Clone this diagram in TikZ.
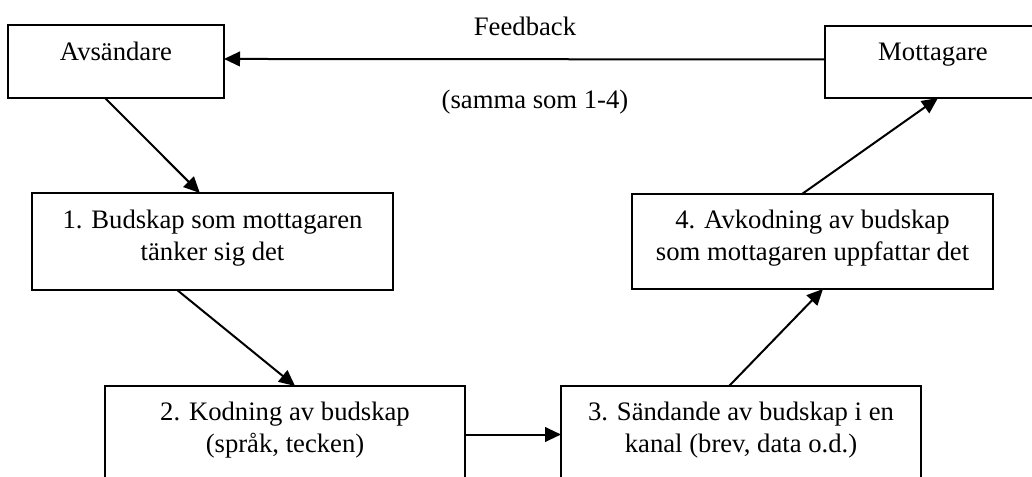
\documentclass[tikz,border=0pt]{standalone}
\usepackage{fontspec}
\setmainfont{Liberation Serif}
\usetikzlibrary{arrows.meta,fit,calc}
\begin{document}
\begin{tikzpicture}[x=0.75pt,y=-0.75pt,
  box/.style={draw, line width=1.7pt, inner sep=0pt, outer sep=0pt},
  lbl/.style={anchor=base, inner sep=0pt, font=\fontsize{20}{24}\selectfont},
  flow/.style={line width=1.5pt, -{Triangle[length=12pt,width=11pt]}}]
\useasboundingbox (0,0) rectangle (1032,477);
\clip (0,0) rectangle (1032,477);

% boxes
\node[box, fit={(8,25) (224,98)}] (A) {};
\node[box, fit={(825,26) (1041,98)}] (M) {};
\node[box, fit={(32,193) (393,290)}] (B1) {};
\node[box, fit={(632,194) (993,289)}] (B4) {};
\node[box, fit={(105,386) (465,483)}] (B2) {};
\node[box, fit={(561,386) (921,483)}] (B3) {};

% texts
\node[lbl] (tA) at (116,61) {Avsändare};
\node[lbl] (tM) at (933,61) {Mottagare};
\node[lbl] (t1a) at (212.5,229) {1. Budskap som mottagaren};
\node[lbl] (t1b) at (212.5,261) {tänker sig det};
\node[lbl] (t4a) at (812.5,229) {4. Avkodning av budskap};
\node[lbl] (t4b) at (812.5,261) {som mottagaren uppfattar det};
\node[lbl] (t2a) at (285,421) {2. Kodning av budskap};
\node[lbl] (t2b) at (285,452) {(språk, tecken)};
\node[lbl] (t3a) at (741,421) {3. Sändande av budskap i en};
\node[lbl] (t3b) at (741,452) {kanal (brev, data o.d.)};
\node[lbl] (fb) at (525,36) {Feedback};
\node[lbl] (fs) at (535,109) {(samma som 1-4)};

% connectors
\draw[flow] ([yshift=1.9pt]M.west) -- ([yshift=1.9pt]A.east);
\draw[flow] ($(A.south west)!0.449!(A.south east)$) -- ($(B1.north west)!0.465!(B1.north east)$);
\draw[flow] ($(B1.south west)!0.402!(B1.south east)$) -- ($(B2.north west)!0.528!(B2.north east)$);
\draw[flow] (B2.east) -- (B3.west);
\draw[flow] ($(B3.north west)!0.467!(B3.north east)$) -- ($(B4.south west)!0.529!(B4.south east)$);
\draw[flow] ($(B4.north west)!0.471!(B4.north east)$) -- ($(M.south west)!0.523!(M.south east)$);
\end{tikzpicture}
\end{document}
